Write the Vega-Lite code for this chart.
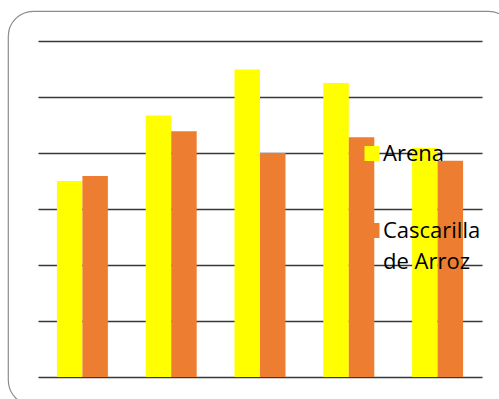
{
  "$schema": "https://vega.github.io/schema/vega-lite/v6.json",
  "width": 505,
  "height": 394,
  "padding": {"left": 8, "top": 11, "right": -14, "bottom": -6},
  "autosize": {"type": "none"},
  "background": "white",
  "config": {
    "view": {"stroke": "#8c8c8c", "strokeWidth": 1.2, "cornerRadius": 25, "fill": "white"}
  },
  "data": {
    "values": [
      {"grupo": "1", "serie": "Arena", "valor": 3.5},
      {"grupo": "1", "serie": "Cascarilla de Arroz", "valor": 3.59},
      {"grupo": "2", "serie": "Arena", "valor": 4.67},
      {"grupo": "2", "serie": "Cascarilla de Arroz", "valor": 4.39},
      {"grupo": "3", "serie": "Arena", "valor": 5.49},
      {"grupo": "3", "serie": "Cascarilla de Arroz", "valor": 4.0},
      {"grupo": "4", "serie": "Arena", "valor": 5.25},
      {"grupo": "4", "serie": "Cascarilla de Arroz", "valor": 4.28},
      {"grupo": "5", "serie": "Arena", "valor": 4.09},
      {"grupo": "5", "serie": "Cascarilla de Arroz", "valor": 3.86}
    ]
  },
  "mark": {"type": "bar"},
  "encoding": {
    "x": {
      "field": "grupo",
      "type": "nominal",
      "scale": {"range": [30, 474], "paddingInner": 0.426, "paddingOuter": 0.213},
      "axis": null
    },
    "xOffset": {"field": "serie", "type": "nominal", "scale": {"paddingInner": 0, "paddingOuter": 0}},
    "y": {
      "field": "valor",
      "type": "quantitative",
      "scale": {"domain": [0, 6], "range": [366, 30], "nice": false},
      "axis": {
        "values": [0, 1, 2, 3, 4, 5, 6],
        "labels": false,
        "ticks": false,
        "domain": false,
        "title": null,
        "grid": true,
        "gridColor": "#383838",
        "gridWidth": 1.5,
        "gridOpacity": 1
      }
    },
    "color": {
      "field": "serie",
      "type": "nominal",
      "scale": {"domain": ["Arena", "Cascarilla de Arroz"], "range": ["#ffff00", "#ed7d31"]},
      "legend": {
        "orient": "none",
        "legendX": 353,
        "legendY": 131.5,
        "title": null,
        "padding": 0,
        "symbolType": "square",
        "symbolSize": 225,
        "symbolStrokeWidth": 0,
        "symbolOpacity": 1,
        "labelFont": "Open Sans",
        "labelFontSize": 22,
        "labelColor": "#000000",
        "labelOffset": 0,
        "labelLimit": 300,
        "rowPadding": 55,
        "labelExpr": "datum.label == 'Cascarilla de Arroz' ? ['Cascarilla', 'de Arroz'] : datum.label",
        "encode": {"labels": {"update": {"lineHeight": {"value": 31}}}}
      }
    }
  }
}
